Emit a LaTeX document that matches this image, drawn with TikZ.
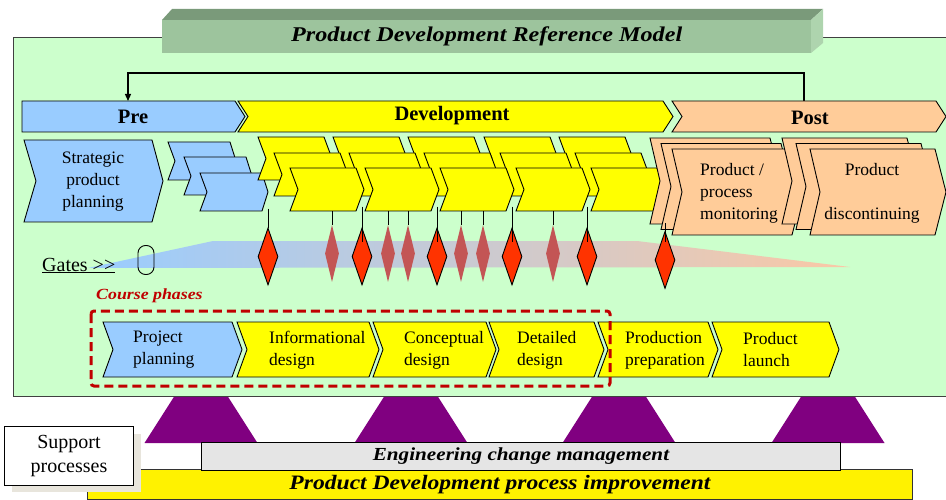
\documentclass[tikz,border=0pt]{standalone}
\usepackage{fontspec}
\setmainfont{Liberation Serif}
\newfontfamily\widefont[FakeStretch=1.15]{Liberation Serif}
\usetikzlibrary{shapes.geometric,arrows.meta}

\definecolor{phaseblue}{RGB}{153,204,255}
\definecolor{phaseyellow}{RGB}{255,255,0}
\definecolor{phaseorange}{RGB}{255,204,153}
\definecolor{panelgreen}{RGB}{204,255,204}
\definecolor{gatered}{RGB}{255,51,0}
\definecolor{gatefade}{RGB}{195,85,85}
\definecolor{darkred}{RGB}{192,0,0}
\definecolor{titlefront}{RGB}{157,196,157}
\definecolor{titletop}{RGB}{122,154,122}
\definecolor{titleside}{RGB}{174,212,174}
\definecolor{supportpurple}{RGB}{128,0,128}
\definecolor{shadowgray}{RGB}{232,229,220}

% chevron: style, x, y (top left), body width, height, tip depth, notch depth
\newcommand{\chevron}[7]{%
  \draw[#1] (#2,#3) -- (#2+#4,#3) -- (#2+#4+#6,#3+#5/2) -- (#2+#4,#3+#5)
    -- (#2,#3+#5) -- (#2+#7,#3+#5/2) -- cycle;}

\begin{document}
\begin{tikzpicture}[
  x=1pt, y=-1pt,
  font=\fontsize{17.5}{22}\selectfont,
  >={Triangle[length=7pt,width=6pt]},
  box/.style={draw=black, line width=0.9pt, line join=miter},
  prephase/.style={box, fill=phaseblue},
  devphase/.style={box, fill=phaseyellow},
  postphase/.style={box, fill=phaseorange},
  barlabel/.style={font=\fontsize{20.5}{24}\selectfont\bfseries, inner sep=0pt},
  lbl/.style={align=left, inner sep=0pt, anchor=west},
  heading/.style={font=\widefont\bfseries\itshape\fontsize{#1}{#1}\selectfont, inner sep=0pt},
  gate/.style={diamond, draw=black, fill=gatered, line width=0.9pt,
               minimum width=20pt, minimum height=57pt, inner sep=0pt},
  subgate/.style={diamond, fill=gatefade, minimum width=14pt, minimum height=57pt, inner sep=0pt},
  stem/.style={draw=black, line width=0.9pt},
]
\useasboundingbox (0,0) rectangle (946,500);

% supports under the panel
\foreach \cx in {201,411,619,828}
  \fill[supportpurple] (\cx-26.5,396) -- (\cx+26.5,396) -- (\cx+56.5,443) -- (\cx-56.5,443) -- cycle;

% main panel
\draw[draw=black!75, fill=panelgreen, line width=1pt] (13,38) rectangle (960,396);

% title block
\fill[titletop] (162,20) -- (172,9) -- (823,9) -- (811,20) -- cycle;
\fill[titleside] (811,20) -- (823,9) -- (823,43) -- (811,53) -- cycle;
\node[fill=titlefront, anchor=north west, minimum width=649pt, minimum height=33pt,
      heading=21] (title) at (162,20) {Product Development Reference Model};

% feedback from post to pre
\coordinate (fbstart) at (804,101);
\coordinate (fbend) at (128,101);
\draw[->, line width=1.2pt] (fbstart) -- ++(0,-28) -| (fbend);

% macro phases
\chevron{prephase}{22}{101}{213}{31}{10}{0}
\chevron{devphase}{238}{101}{425}{31}{10}{10}
\chevron{postphase}{672}{101}{264}{31}{10}{10}
\node[barlabel] (pre) at (133,117) {Pre};
\node[barlabel] (dev) at (452,116) {Development};
\node[barlabel] (post) at (810,118) {Post};

% pre: strategic planning + stacked steps
\chevron{prephase}{24}{140}{128}{82}{11}{12}
\node[align=center, inner sep=0pt] (strategic) at (93,182) {Strategic\\product\\planning};
\foreach \dx/\dy in {0/0,16/15,32/31} {
  \chevron{prephase}{168+\dx}{142+\dy}{62}{38}{6}{7}
}

% development: five stacks of three
\foreach \ox/\oy in {32/31,16/15,0/0} {
  \foreach \gx in {290,365,440,516,591} {
    \chevron{devphase}{\gx-\ox}{168-\oy}{66}{43}{8}{8}
  }
}

% post: two stacks
\foreach \dx/\dy in {22/11,11/5.5,0/0} {
  \chevron{postphase}{672-\dx}{149-\dy}{120}{86}{11}{10}
}
\foreach \dx/\dy in {28/11,14/5.5,0/0} {
  \chevron{postphase}{810-\dx}{149-\dy}{125}{86}{11}{10}
}
\node[lbl] (monitor) at (700,193) {Product /\\process\\monitoring};
\node[align=center, inner sep=0pt] (discont) at (872,193) {Product\\~\\discontinuing};

% gates band
\shade[left color=phaseblue, right color={rgb,255:red,250;green,200;blue,165}]
  (88,268) -- (213,241) -- (637,241) -- (850,267) -- cycle;
\node[draw=black, line width=0.9pt, rounded corners=7.5pt, minimum width=16pt,
      minimum height=29pt, inner sep=0pt] (gatemark) at (146,260) {};
\node[anchor=base west, inner sep=0pt, font=\fontsize{20}{24}\selectfont]
  (gates) at (42,271) {\underline{Gates >{}>}};

\foreach \x [count=\i] in {332,388,408,461,483,553} {
  \node[subgate] (f\i) at (\x,253.5) {};
  \draw[stem] (f\i.north) ++(0,-14) -- (f\i.north);
}
\foreach \x [count=\i] in {268,362,437,512,587} {
  \node[gate] (r\i) at (\x,256.5) {};
}
\draw[stem] (r1.north) ++(0,-19) -- (r1.north);
\foreach \i in {2,...,5} {
  \draw[stem] (r\i.north) ++(0,-21) -- ++(0,35);
}
\node[gate] (r6) at (665,260) {};
\draw[stem] (r6.north) ++(0,-8) -- ++(0,19);

% course phases
\node[anchor=base west, text=darkred, heading=15.5] (coursetitle) at (96,299) {Course phases};
\chevron{prephase}{103}{322}{129}{55}{10}{10}
\foreach \px/\pw in {237/132,373/113,489/105,598/110,712/117} {
  \chevron{devphase}{\px}{322}{\pw}{55}{10}{10}
}
\node[lbl] (projplan) at (133,350) {Project\\planning};
\node[lbl] (infodes) at (269,350) {Informational\\design};
\node[lbl] (concdes) at (404,350) {Conceptual\\design};
\node[lbl] (detdes) at (517,350) {Detailed\\design};
\node[lbl] (prodprep) at (625,350) {Production\\preparation};
\node[lbl] (launch) at (743,350) {Product\\launch};
\draw[darkred, line width=3pt, dash pattern=on 9pt off 5pt, rounded corners=3pt]
  (91,311) rectangle (610,386);

% support processes
\node[draw=black!80, line width=1pt, fill=yellow, anchor=north west, minimum width=825pt,
      minimum height=30pt, inner sep=0pt, heading=20.5] (pdpi) at (87,469)
  {Product Development process improvement};
\node[draw=black, line width=1pt, fill=black!10, anchor=north west, minimum width=639pt,
      minimum height=28pt, inner sep=0pt, heading=18.4] (ecm) at (201,442)
  {Engineering change management};
\fill[shadowgray] (12,434) rectangle (141,492);
\node[draw=black, line width=1pt, fill=white, anchor=north west, minimum width=129pt,
      minimum height=59pt, inner sep=0pt, align=center, font=\fontsize{20}{24}\selectfont]
  (support) at (4,426) {Support\\processes};

\end{tikzpicture}
\end{document}
